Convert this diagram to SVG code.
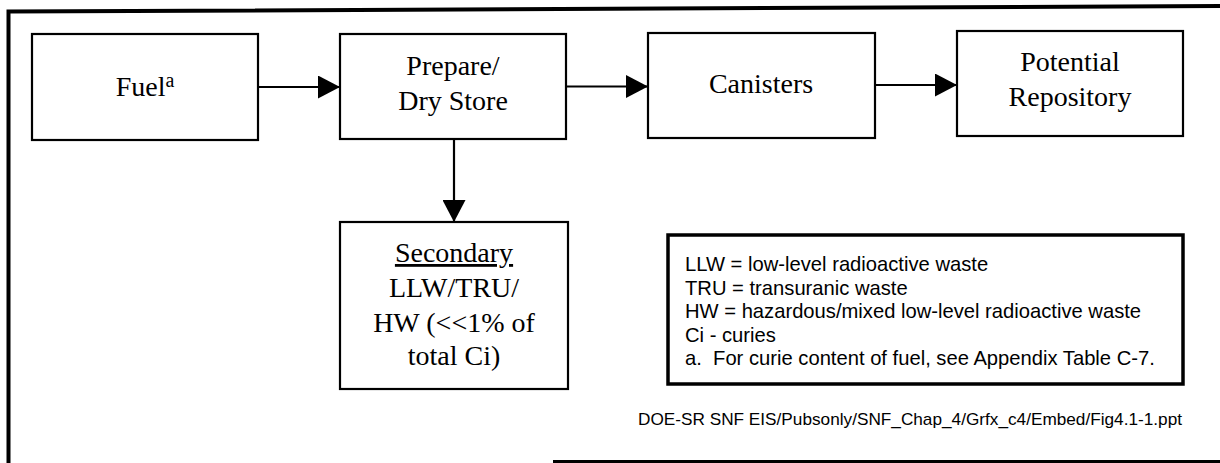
<svg xmlns="http://www.w3.org/2000/svg" width="1220" height="463" viewBox="0 0 1220 463">
<style>
.box{fill:#fff;stroke:#000;stroke-width:2.2}
.serif{font-family:"Liberation Serif","Times New Roman",serif;font-size:28px;fill:#000;text-anchor:middle}
.sans{font-family:"Liberation Sans",Arial,sans-serif;fill:#000}
.conn{stroke:#000;stroke-width:2.2;fill:none;marker-end:url(#ah)}
</style>
<defs>
<marker id="ah" markerUnits="userSpaceOnUse" markerWidth="22" markerHeight="23" refX="22" refY="11.5" orient="auto">
<path d="M0,0 L22,11.5 L0,23 Z" fill="#000"/>
</marker>
</defs>
<rect width="1220" height="463" fill="#fff"/>
<g id="frame" stroke="#000" fill="none">
<path d="M8.5,463 L8.5,11.5 L1220,6" stroke-width="4"/>
<path d="M553,461.5 L1220,461.5" stroke-width="3"/>
</g>
<g id="connectors">
<line class="conn" x1="258" y1="87" x2="340" y2="87"/>
<line class="conn" x1="566" y1="86.5" x2="648" y2="86.5"/>
<line class="conn" x1="875" y1="85" x2="957" y2="85"/>
<line class="conn" x1="454" y1="139" x2="454" y2="222"/>
</g>
<g id="fuel">
<rect class="box" x="32" y="34" width="226" height="106"/>
<text class="serif" x="145" y="96">Fuel<tspan font-size="20" dy="-9">a</tspan></text>
</g>
<g id="prepare">
<rect class="box" x="340" y="34" width="226" height="105"/>
<text class="serif" x="453" y="75">Prepare/</text>
<text class="serif" x="453" y="110">Dry Store</text>
</g>
<g id="canisters">
<rect class="box" x="648" y="33" width="227" height="105"/>
<text class="serif" x="761" y="93">Canisters</text>
</g>
<g id="repository">
<rect class="box" x="957" y="31" width="226" height="105"/>
<text class="serif" x="1070" y="71">Potential</text>
<text class="serif" x="1070" y="106">Repository</text>
</g>
<g id="secondary">
<rect class="box" x="340" y="222" width="228" height="167"/>
<text class="serif" x="454" y="262" text-decoration="underline">Secondary</text>
<text class="serif" x="454" y="297">LLW/TRU/</text>
<text class="serif" x="454" y="332">HW (&lt;&lt;1% of</text>
<text class="serif" x="454" y="365">total Ci)</text>
</g>
<g id="legend">
<rect x="668" y="235" width="515" height="149" fill="#fff" stroke="#000" stroke-width="3.5"/>
<g class="sans" font-size="20.2">
<text x="685" y="271">LLW = low-level radioactive waste</text>
<text x="685" y="294.5">TRU = transuranic waste</text>
<text x="685" y="318">HW = hazardous/mixed low-level radioactive waste</text>
<text x="685" y="341.5">Ci - curies</text>
<text x="685" y="365">a.&#160; For curie content of fuel, see Appendix Table C-7.</text>
</g>
</g>
<g id="footer">
<text class="sans" x="638" y="425" font-size="17" textLength="544" lengthAdjust="spacingAndGlyphs">DOE-SR SNF EIS/Pubsonly/SNF_Chap_4/Grfx_c4/Embed/Fig4.1-1.ppt</text>
</g>
</svg>
